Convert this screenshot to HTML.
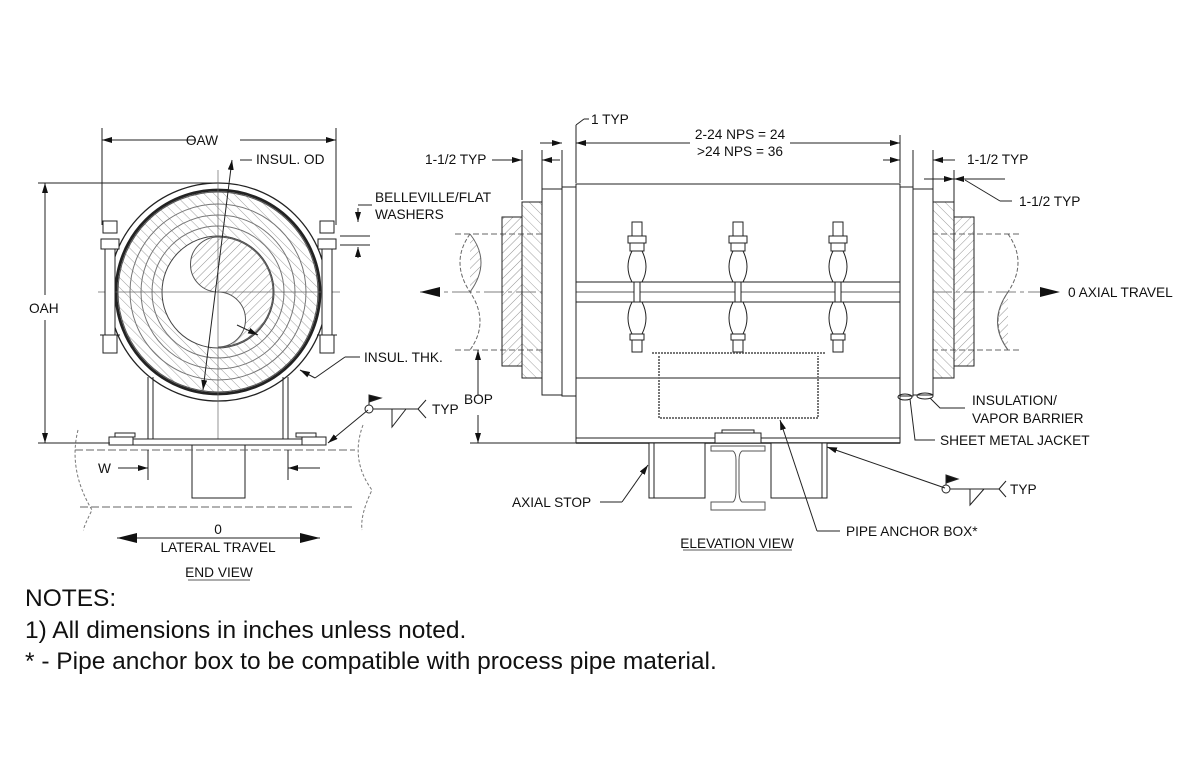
<!DOCTYPE html>
<html><head><meta charset="utf-8"><style>
html,body{margin:0;padding:0;background:#fff;width:1200px;height:776px;overflow:hidden}
svg{display:block}
text{font-family:"Liberation Sans",sans-serif;fill:#111}
.s{font-size:13.7px}
.n{font-size:24.5px}
</style></head><body>
<svg width="1200" height="776" viewBox="0 0 1200 776" xmlns="http://www.w3.org/2000/svg">
<defs>
<pattern id="h1" width="6" height="6" patternUnits="userSpaceOnUse" patternTransform="rotate(45)"><line x1="0" y1="0" x2="0" y2="6" stroke="#777" stroke-width="0.8"/></pattern>
<pattern id="h2" width="7" height="7" patternUnits="userSpaceOnUse" patternTransform="rotate(-45)"><line x1="0" y1="0" x2="0" y2="7" stroke="#888" stroke-width="0.8"/></pattern>
<marker id="a" viewBox="0 0 10 6" refX="10" refY="3" markerWidth="10" markerHeight="6" orient="auto-start-reverse" markerUnits="userSpaceOnUse"><path d="M0,0L10,3L0,6z" fill="#111"/></marker>
<marker id="A" viewBox="0 0 20 10" refX="20" refY="5" markerWidth="20" markerHeight="10" orient="auto-start-reverse" markerUnits="userSpaceOnUse"><path d="M0,0L20,5L0,10z" fill="#111"/></marker>
</defs>
<g stroke="#222" fill="none" stroke-width="1">
<!-- END VIEW -->
<line x1="102" y1="128" x2="102" y2="225"/><line x1="336" y1="128" x2="336" y2="225"/>
<line x1="102" y1="140" x2="196" y2="140" marker-start="url(#a)"/><line x1="240" y1="140" x2="336" y2="140" marker-end="url(#a)"/>
<line x1="38" y1="183" x2="218" y2="183"/><line x1="38" y1="443" x2="110" y2="443"/>
<line x1="45" y1="183" x2="45" y2="295" marker-start="url(#a)"/><line x1="45" y1="320" x2="45" y2="443" marker-end="url(#a)"/>
<circle cx="218" cy="292" r="109" stroke-width="1.3"/>
<circle cx="218" cy="292" r="102" stroke-width="2.8"/>
<circle cx="218" cy="292" r="100" fill="url(#h2)" stroke="#555"/>
<circle cx="218" cy="292" r="88" stroke="#777"/>
<circle cx="218" cy="292" r="77" stroke="#777"/>
<circle cx="218" cy="292" r="66" stroke="#777"/>
<circle cx="218" cy="292" r="56" fill="#fff" stroke="#444"/>
<path d="M218,237 A27,27 0 0 0 218,292 A27,27 0 0 1 218,347 A55,55 0 0 0 218,237z" fill="url(#h1)" stroke="#555"/>
<line x1="218" y1="170" x2="218" y2="460" stroke="#666" stroke-width="0.7"/>
<line x1="98" y1="292" x2="340" y2="292" stroke="#666" stroke-width="0.7"/>
<line x1="232" y1="160" x2="203" y2="390" marker-start="url(#a)" marker-end="url(#a)"/>
<line x1="240" y1="160" x2="252" y2="160"/>
<line x1="237" y1="325" x2="258" y2="335" marker-end="url(#a)"/>
<!-- bolts -->
<g fill="#fff">
<rect x="103" y="221" width="14" height="12"/><rect x="101" y="239" width="18" height="10"/>
<rect x="105" y="249" width="10" height="98"/>
<rect x="103" y="335" width="14" height="18"/>
<rect x="320" y="221" width="14" height="12"/><rect x="318" y="239" width="18" height="10"/>
<rect x="322" y="249" width="10" height="98"/>
<rect x="320" y="335" width="14" height="18"/>
</g>
<line x1="100" y1="335" x2="120" y2="335"/><line x1="317" y1="335" x2="337" y2="335"/>
<line x1="358" y1="208" x2="358" y2="222" marker-end="url(#a)"/><line x1="358" y1="258" x2="358" y2="247" marker-end="url(#a)"/>
<line x1="340" y1="236" x2="370" y2="236"/><line x1="340" y1="245" x2="370" y2="245"/>
<line x1="358" y1="205" x2="372" y2="205"/>
<line x1="315" y1="378" x2="300" y2="370" marker-end="url(#a)"/><line x1="315" y1="378" x2="345" y2="357"/><line x1="345" y1="357" x2="360" y2="357"/>
<!-- saddle -->
<line x1="148" y1="377" x2="148" y2="439"/><line x1="153" y1="377" x2="153" y2="439"/>
<line x1="283" y1="377" x2="283" y2="439"/><line x1="288" y1="377" x2="288" y2="439"/>
<rect x="133" y="439" width="169" height="6" fill="#fff"/>
<rect x="109" y="437" width="24" height="8"/><rect x="115" y="433" width="20" height="4"/>
<rect x="302" y="437" width="24" height="8"/><rect x="296" y="433" width="20" height="4"/>
<rect x="192" y="445" width="53" height="53" fill="#fff"/>
<line x1="75" y1="450" x2="355" y2="450" stroke-dasharray="8,3" stroke="#666"/>
<line x1="80" y1="507" x2="355" y2="507" stroke-dasharray="8,3" stroke="#666"/>
<path d="M78,430 Q68,470 92,510 Q82,530 84,530" stroke="#777" stroke-dasharray="3,2"/>
<path d="M363,425 Q350,460 372,490 Q360,515 362,530" stroke="#777" stroke-dasharray="3,2"/>
<line x1="148" y1="450" x2="148" y2="480"/><line x1="288" y1="450" x2="288" y2="480"/>
<line x1="118" y1="468" x2="148" y2="468" marker-end="url(#a)"/><line x1="320" y1="468" x2="288" y2="468" marker-end="url(#a)"/>
<line x1="117" y1="538" x2="320" y2="538" marker-start="url(#A)" marker-end="url(#A)"/>
<line x1="328" y1="443" x2="368" y2="410" marker-start="url(#a)"/>
<circle cx="369" cy="409" r="4"/><line x1="373" y1="409" x2="418" y2="409"/>
<line x1="369" y1="405" x2="369" y2="395"/><path d="M369,395 l12,3 l-12,4z" fill="#111"/>
<path d="M392,409 l0,18 l14,-18" /><line x1="418" y1="409" x2="426" y2="400"/><line x1="418" y1="409" x2="426" y2="418"/>
<line x1="188" y1="580" x2="250" y2="580" stroke-width="0.8"/>

<!-- ELEVATION -->
<line x1="420" y1="292" x2="1060" y2="292" stroke="#555" stroke-width="0.8" stroke-dasharray="20,4,4,4" marker-start="url(#A)" marker-end="url(#A)"/>
<line x1="455" y1="234" x2="1022" y2="234" stroke="#666" stroke-dasharray="6,3"/>
<line x1="455" y1="350" x2="1022" y2="350" stroke="#666" stroke-dasharray="6,3"/>
<path d="M470,234 Q450,262 470,292 Q490,322 470,350" stroke="#666" stroke-dasharray="4,2"/>
<path d="M470,234 Q492,262 470,292" fill="url(#h1)" stroke="#666"/>
<path d="M1008,292 Q987,322 1008,350" fill="url(#h1)" stroke="#666"/>
<path d="M1008,234 Q1028,262 1008,292 Q988,322 1008,350" stroke="#666" stroke-dasharray="4,2"/>
<rect x="502" y="217" width="20" height="149" fill="url(#h1)"/>
<rect x="522" y="202" width="20" height="176" fill="url(#h2)"/>
<rect x="542" y="189" width="20" height="206" fill="#fff"/>
<rect x="562" y="187" width="14" height="209" fill="#fff"/>
<rect x="900" y="187" width="13" height="209" fill="#fff"/>
<rect x="913" y="189" width="20" height="206" fill="#fff"/>
<rect x="933" y="202" width="21" height="176" fill="url(#h2)"/>
<rect x="954" y="217" width="20" height="149" fill="url(#h1)"/>
<rect x="576" y="184" width="324" height="98" fill="#fff"/>
<rect x="576" y="302" width="324" height="141" fill="#fff"/>
<line x1="576" y1="292" x2="900" y2="292" stroke="#555"/>
<line x1="576" y1="282" x2="576" y2="302"/><line x1="900" y1="282" x2="900" y2="302"/>
<line x1="576" y1="378" x2="900" y2="378"/>
<line x1="576" y1="438" x2="900" y2="438"/>
<line x1="576" y1="443" x2="900" y2="443" stroke-width="1.5"/>
<path d="M659,356 L659,418 L818,418 L818,356" stroke="#777" stroke-dasharray="2,1" stroke-width="2"/>
<line x1="652" y1="353" x2="826" y2="353" stroke="#777" stroke-width="2" stroke-dasharray="2,1"/>
<g fill="#fff">
<g id="b"><rect x="632" y="222" width="10" height="14"/><rect x="628" y="236" width="18" height="7"/><rect x="630" y="243" width="14" height="8"/>
<path d="M632,251 Q624,267 632,282 L642,282 Q650,267 642,251z"/><rect x="634" y="282" width="6" height="20"/>
<path d="M632,302 Q624,318 632,334 L642,334 Q650,318 642,302z"/><rect x="630" y="334" width="14" height="6"/><rect x="632" y="340" width="10" height="12"/></g>
<use href="#b" x="101"/><use href="#b" x="201"/>
</g>
<rect x="715" y="433" width="46" height="10" fill="#fff"/><rect x="722" y="430" width="32" height="3"/>
<rect x="649" y="443" width="56" height="55" fill="#fff"/><line x1="654" y1="443" x2="654" y2="498"/>
<rect x="771" y="443" width="56" height="55" fill="#fff"/><line x1="822" y1="443" x2="822" y2="498"/>
<path d="M711,446 L765,446 L765,451 L742,451 Q739,453 739,460 L739,490 Q739,500 742,502 L765,502 L765,510 L711,510 L711,502 L733,502 Q736,500 736,490 L736,460 Q736,453 733,451 L711,451z" stroke="#555"/>
<!-- dims -->
<line x1="562" y1="150" x2="562" y2="187"/><line x1="576" y1="125" x2="576" y2="183"/><line x1="542" y1="150" x2="542" y2="189"/><line x1="522" y1="150" x2="522" y2="200"/>
<line x1="900" y1="135" x2="900" y2="183"/><line x1="913" y1="150" x2="913" y2="187"/><line x1="933" y1="150" x2="933" y2="200"/><line x1="954" y1="170" x2="954" y2="215"/>
<line x1="540" y1="143" x2="562" y2="143" marker-end="url(#a)"/><line x1="576" y1="143" x2="690" y2="143" marker-start="url(#a)"/><line x1="790" y1="143" x2="900" y2="143" marker-end="url(#a)"/>
<line x1="576" y1="125" x2="584" y2="119"/><line x1="584" y1="119" x2="589" y2="119"/>
<line x1="492" y1="160" x2="522" y2="160" marker-end="url(#a)"/><line x1="560" y1="160" x2="542" y2="160" marker-end="url(#a)"/>
<line x1="883" y1="160" x2="900" y2="160" marker-end="url(#a)"/><line x1="955" y1="160" x2="933" y2="160" marker-end="url(#a)"/>
<line x1="924" y1="179" x2="954" y2="179" marker-end="url(#a)"/><line x1="1005" y1="179" x2="954" y2="179" marker-end="url(#a)"/>
<line x1="965" y1="180" x2="1000" y2="201"/><line x1="1000" y1="201" x2="1012" y2="201"/>
<line x1="470" y1="443" x2="576" y2="443"/>
<line x1="478" y1="350" x2="478" y2="395" marker-start="url(#a)"/><line x1="478" y1="415" x2="478" y2="443" marker-end="url(#a)"/>
<ellipse cx="905" cy="397" rx="7" ry="3"/><ellipse cx="925" cy="396" rx="8" ry="3"/>
<path d="M910,399 L915,440 L935,440"/><path d="M930,398 L940,408 L965,408"/>
<line x1="827" y1="447" x2="945" y2="488" marker-start="url(#a)"/>
<circle cx="946" cy="489" r="4"/><line x1="950" y1="489" x2="999" y2="489"/>
<line x1="946" y1="485" x2="946" y2="475"/><path d="M946,475 l12,4 l-12,4z" fill="#111"/>
<path d="M970,489 l0,16 l14,-16"/><line x1="999" y1="489" x2="1006" y2="481"/><line x1="999" y1="489" x2="1006" y2="497"/>
<line x1="648" y1="465" x2="622" y2="502" marker-start="url(#a)"/><line x1="622" y1="502" x2="600" y2="502"/>
<line x1="780" y1="420" x2="817" y2="531" marker-start="url(#a)"/><line x1="817" y1="531" x2="840" y2="531"/>
<line x1="683" y1="550" x2="792" y2="550" stroke-width="0.8"/>
</g>
<g class="s">
<text x="202" y="145" text-anchor="middle">OAW</text>
<text x="256" y="164">INSUL. OD</text>
<text x="375" y="202">BELLEVILLE/FLAT</text>
<text x="375" y="219">WASHERS</text>
<text x="29" y="313">OAH</text>
<text x="364" y="362">INSUL. THK.</text>
<text x="432" y="414">TYP</text>
<text x="98" y="473">W</text>
<text x="218" y="534" text-anchor="middle">0</text>
<text x="218" y="552" text-anchor="middle">LATERAL TRAVEL</text>
<text x="219" y="577" text-anchor="middle">END VIEW</text>
<text x="591" y="124">1 TYP</text>
<text x="740" y="139" text-anchor="middle">2-24 NPS = 24</text>
<text x="740" y="156" text-anchor="middle">&gt;24 NPS = 36</text>
<text x="425" y="164">1-1/2 TYP</text>
<text x="967" y="164">1-1/2 TYP</text>
<text x="1019" y="206">1-1/2 TYP</text>
<text x="1068" y="297">0 AXIAL TRAVEL</text>
<text x="464" y="404">BOP</text>
<text x="972" y="405">INSULATION/</text>
<text x="972" y="423">VAPOR BARRIER</text>
<text x="940" y="445">SHEET METAL JACKET</text>
<text x="1010" y="494">TYP</text>
<text x="512" y="507">AXIAL STOP</text>
<text x="846" y="536">PIPE ANCHOR BOX*</text>
<text x="737" y="548" text-anchor="middle">ELEVATION VIEW</text>
</g>
<text class="n" x="25" y="606">NOTES:</text>
<text class="n" x="25" y="638">1) All dimensions in inches unless noted.</text>
<text class="n" x="25" y="669">* - Pipe anchor box to be compatible with process pipe material.</text>
</svg>
</body></html>
